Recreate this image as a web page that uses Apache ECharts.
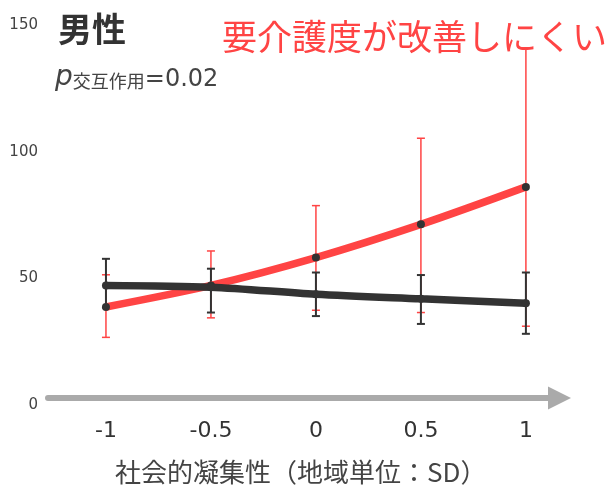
<!DOCTYPE html>
<html>
<head>
<meta charset="utf-8">
<script src="https://cdn.jsdelivr.net/npm/echarts@6/dist/echarts.min.js"></script>
<style>
  html, body { margin: 0; padding: 0; background: #fff; }
  #chart { width: 612px; height: 490px; }
</style>
</head>
<body>
<div id="chart"></div>
<script>
// Social cohesion (area level, SD) on the x axis
const xValues = [-1, -0.5, 0, 0.5, 1];
const xTickLabels = ['-1', '-0.5', '0', '0.5', '1'];
const yTicks = [0, 50, 100, 150];

// Red group: estimate and interval bounds
const redMean = [38.7, 47.2, 58.2, 71.3, 86.1];
const redLow  = [26.7, 34.4, 37.4, 36.5, 31.1];
const redHigh = [51.4, 60.8, 78.7, 105.3, 141.0];

// Dark group: estimate and interval bounds
const darkMean = [47.2, 46.5, 43.7, 41.9, 40.2];
const darkLow  = [38.5, 36.5, 35.1, 32.0, 28.1];
const darkHigh = [57.7, 53.8, 52.3, 51.3, 52.3];

const RED = '#ff4444';
const DARK = '#333333';
const CJK = '"Noto Sans CJK JP", sans-serif';
const LATIN = '"DejaVu Sans", sans-serif';

const pairs = (xs, ys) => xs.map((x, i) => [x, ys[i]]);
const ranges = (xs, lo, hi) => xs.map((x, i) => [x, lo[i], hi[i]]);

function errorBar(color, width, capWidth) {
  return function (params, api) {
    const x = api.value(0);
    const top = api.coord([x, api.value(2)]);
    const bot = api.coord([x, api.value(1)]);
    const h = capWidth / 2;
    const style = { stroke: color, lineWidth: width };
    return {
      type: 'group',
      children: [
        { type: 'line', shape: { x1: top[0], y1: top[1], x2: bot[0], y2: bot[1] }, style },
        { type: 'line', shape: { x1: top[0] - h, y1: top[1], x2: top[0] + h, y2: top[1] }, style },
        { type: 'line', shape: { x1: bot[0] - h, y1: bot[1], x2: bot[0] + h, y2: bot[1] }, style }
      ]
    };
  };
}

const chart = echarts.init(document.getElementById('chart'), null, { renderer: 'canvas' });

chart.setOption({
  animation: false,
  backgroundColor: '#ffffff',
  title: [
    {
      text: '男性',
      left: 58, top: 12, padding: 0,
      textStyle: { fontFamily: CJK, fontSize: 34, fontWeight: 'bold', color: '#333' }
    },
    {
      text: '{p|p}{s|交互作用}{v|=0.02}',
      left: 55, top: 64, padding: 0,
      textStyle: {
        fontWeight: 'normal',
        rich: {
          p: { fontFamily: LATIN, fontStyle: 'italic', fontWeight: 'normal', fontSize: 28, color: '#444', verticalAlign: 'bottom' },
          s: { fontFamily: CJK, fontWeight: 'normal', fontSize: 18, color: '#444', verticalAlign: 'bottom', padding: [0, 0, 2, 0] },
          v: { fontFamily: LATIN, fontWeight: 'normal', fontSize: 24, color: '#444', verticalAlign: 'bottom' }
        }
      }
    },
    {
      text: '要介護度が改善しにくい',
      left: 222, top: 19, padding: 0,
      textStyle: { fontFamily: CJK, fontSize: 35, fontWeight: 'normal', color: RED }
    }
  ],
  grid: { left: 48, right: 52.5, top: 25, bottom: 79.5, containLabel: false },
  xAxis: {
    type: 'value',
    min: -1.276,
    max: 1.16,
    offset: -7,
    axisLine: {
      show: true,
      onZero: false,
      symbol: ['none', 'triangle'],
      symbolSize: [23, 23],
      lineStyle: { color: '#aaaaaa', width: 6 }
    },
    axisTick: { show: false },
    splitLine: { show: false },
    axisLabel: {
      customValues: xValues,
      formatter: v => xTickLabels[xValues.indexOf(v)] ?? '',
      fontFamily: LATIN,
      fontSize: 22,
      color: '#333',
      margin: 22
    },
    name: '社会的凝集性（地域単位：SD）',
    nameLocation: 'middle',
    nameGap: 61,
    nameTextStyle: { fontFamily: CJK, fontSize: 26, color: '#444', padding: [0, 6, 0, 0] }
  },
  yAxis: {
    type: 'value',
    min: yTicks[0],
    max: yTicks[yTicks.length - 1],
    interval: 50,
    axisLine: { show: false },
    axisTick: { show: false },
    splitLine: { show: false },
    axisLabel: { fontFamily: LATIN, fontSize: 15, color: '#444', margin: 10 }
  },
  series: [
    {
      type: 'custom',
      name: 'redInterval',
      renderItem: errorBar(RED, 1.5, 8),
      data: ranges(xValues, redLow, redHigh),
      encode: { x: 0, y: [1, 2] },
      z: 1
    },
    {
      type: 'custom',
      name: 'darkInterval',
      renderItem: errorBar(DARK, 2, 8),
      data: ranges(xValues, darkLow, darkHigh),
      encode: { x: 0, y: [1, 2] },
      z: 2
    },
    {
      type: 'line',
      name: 'red',
      data: pairs(xValues, redMean),
      smooth: 0.3,
      symbol: 'circle',
      symbolSize: 8,
      lineStyle: { color: RED, width: 7.5 },
      itemStyle: { color: DARK },
      z: 3
    },
    {
      type: 'line',
      name: 'dark',
      data: pairs(xValues, darkMean),
      smooth: 0.3,
      symbol: 'circle',
      symbolSize: 8,
      lineStyle: { color: DARK, width: 7.5 },
      itemStyle: { color: DARK },
      z: 4
    }
  ]
});
</script>
</body>
</html>
